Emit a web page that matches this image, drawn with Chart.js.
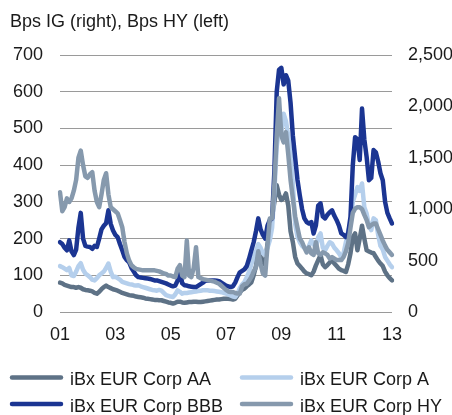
<!DOCTYPE html>
<html>
<head>
<meta charset="utf-8">
<script src="https://cdn.jsdelivr.net/npm/chart.js@4/dist/chart.umd.min.js"></script>
<style>
  html, body { margin: 0; padding: 0; background: #fff; }
  #wrap { width: 452px; height: 415px; }
</style>
</head>
<body>
<div id="wrap"><canvas id="spreads" width="452" height="415"></canvas></div>
<script>
// monthly observations, Jan 2001 .. Jan 2013
const months = [];
for (let y = 2001; y <= 2013; y++) {
  for (let m = 1; m <= 12; m++) {
    if (y === 2013 && m > 1) break;
    months.push(y + '-' + String(m).padStart(2, '0'));
  }
}

const titleText = 'Bps IG (right), Bps HY (left)';
const seriesNames = ['iBx EUR Corp AA', 'iBx EUR Corp A', 'iBx EUR Corp BBB', 'iBx EUR Corp HY'];
const leftTicks = [0, 100, 200, 300, 400, 500, 600, 700];
const rightTicks = [0, 500, 1000, 1500, 2000, 2500];

// investment grade, bps (left scale)
const corpAA = [
  80, 78, 74, 72, 70, 68, 68, 66, 68, 66, 62, 60,
  59, 58, 56, 52, 50, 55, 62, 68, 72, 68, 65, 62,
  60, 58, 55, 52, 50, 48, 46, 45, 44, 42, 41, 40,
  39, 37, 36, 35, 34, 33, 33, 32, 32, 30, 28, 26,
  25, 23, 25, 28, 28, 26, 25, 26, 27, 27, 28, 28,
  27, 27, 28, 29, 30, 31, 32, 33, 34, 34, 35, 36,
  36, 36, 35, 34, 36, 45, 54, 60, 64, 70, 75, 81,
  100, 125, 165, 150, 130, 140, 185, 223, 260, 300, 345, 320,
  305, 310, 323, 290, 220, 190, 150, 132, 125, 118, 110, 105,
  103, 100, 110, 127, 141, 155, 130, 122, 128, 135, 141, 132,
  125, 118, 114, 112, 109, 130, 160, 204, 214, 168, 200, 235,
  200, 168, 165, 162, 160, 150, 140, 132, 125, 110, 100, 92,
  86
];
const corpA = [
  125, 122, 118, 114, 120, 100, 98, 110, 125, 133, 115, 105,
  100, 95, 88, 86, 92, 100, 105, 110, 120, 132, 110, 95,
  96, 92, 88, 82, 80, 78, 76, 75, 73, 72, 73, 70,
  68, 66, 64, 62, 60, 59, 58, 60, 58, 52, 46, 44,
  42, 41, 48, 59, 55, 50, 52, 52, 53, 54, 55, 56,
  57, 58, 59, 59, 59, 58, 58, 57, 56, 55, 54, 52,
  50, 48, 45, 42, 41, 50, 65, 75, 82, 95, 110, 130,
  150, 165, 185, 175, 160, 155, 175, 195, 230, 330, 450, 500,
  490, 540, 520, 480, 430, 350, 240, 205, 190, 180, 175, 170,
  180, 195, 185, 175, 204, 214, 175, 168, 180, 190, 186, 175,
  168, 160, 150, 160, 190, 220, 240, 300, 320, 340, 330, 350,
  285, 268, 235, 223, 255, 250, 210, 180, 170, 150, 140, 130,
  122
];
const corpBBB = [
  190, 185, 175, 168, 195, 165, 155, 170, 230, 270, 200, 180,
  178, 177, 172, 180, 177, 200, 225, 235, 242, 277, 240, 222,
  210, 204, 185, 168, 150, 141, 135, 120, 110, 100, 95, 94,
  93, 92, 91, 90, 88, 86, 86, 84, 82, 80, 78, 75,
  72, 70, 72, 85, 115, 78, 73, 72, 70, 69, 68, 68,
  72, 76, 80, 85, 86, 86, 86, 86, 85, 84, 80, 76,
  72, 70, 68, 70, 80, 95, 108, 112, 116, 125, 145, 168,
  190, 220, 255, 225, 210, 200, 235, 250, 255, 386, 600, 660,
  665, 620, 645, 630, 570, 480, 420, 360, 318, 280, 255, 245,
  241, 245, 214, 236, 290, 296, 260, 255, 265, 272, 277, 262,
  250, 235, 214, 210, 204, 215, 259, 400, 476, 470, 414, 554,
  470, 422, 359, 365, 441, 435, 410, 378, 359, 300, 270, 255,
  241
];
// high yield, bps (right scale)
const corpHY = [
  1165, 980, 1020, 1105, 1070, 1105, 1180, 1285, 1500, 1570, 1430, 1320,
  1305, 1340, 1360, 1180, 1070, 1020, 1145, 1285, 1350, 1145, 1020, 1000,
  980, 960, 895, 825, 680, 570, 500, 455, 435, 420, 415, 410,
  405, 405, 405, 405, 405, 405, 400, 395, 385, 375, 370, 355,
  355, 345, 340, 420, 455, 355, 340, 695, 355, 340, 430, 630,
  340, 330, 320, 315, 310, 305, 300, 295, 285, 275, 255, 235,
  215, 200, 195, 195, 185, 180, 180, 250, 270, 275, 305, 340,
  395, 435, 590, 465, 375, 355, 645, 910, 910, 1250, 1715, 2080,
  1715, 1650, 1750, 1535, 1285, 1105, 930, 820, 715, 680, 625, 580,
  630, 570, 555, 680, 570, 555, 580, 570, 555, 520, 535, 520,
  505, 505, 505, 535, 590, 670, 820, 965, 1005, 1020, 1020, 1000,
  945, 895, 825, 845, 860, 860, 805, 750, 695, 645, 605, 580,
  555
];

const colors = ['#5e7286', '#b5cfec', '#1b3592', '#8699ad'];
const font = '"Liberation Sans", Arial, sans-serif';

function line(idx, values, axis, order) {
  return {
    label: seriesNames[idx],
    data: values,
    yAxisID: axis,
    borderColor: colors[idx],
    backgroundColor: colors[idx],
    borderWidth: 4.5,
    borderJoinStyle: 'round',
    borderCapStyle: 'round',
    pointRadius: 0,
    tension: 0,
    order: order
  };
}

// title and the two-column legend
const decor = {
  id: 'decor',
  afterDraw(chart) {
    const ctx = chart.ctx;
    ctx.save();
    ctx.font = '18px ' + font;
    ctx.fillStyle = '#1a1a1a';
    ctx.textBaseline = 'alphabetic';
    ctx.fillText(titleText, 10, 27);
    const spots = [[10, 377.5], [240, 377.5], [10, 404], [240, 404]];
    chart.data.datasets.forEach((ds, k) => {
      const [x, y] = spots[k];
      ctx.strokeStyle = ds.borderColor;
      ctx.lineWidth = 4.5;
      ctx.lineCap = 'round';
      ctx.beginPath();
      ctx.moveTo(x + 2, y);
      ctx.lineTo(x + 51, y);
      ctx.stroke();
      ctx.fillStyle = '#1a1a1a';
      ctx.fillText(ds.label, x + 60, y + 7.5);
    });
    ctx.restore();
  }
};

new Chart(document.getElementById('spreads'), {
  type: 'line',
  data: {
    labels: months,
    datasets: [
      line(0, corpAA, 'y', 4),
      line(1, corpA, 'y', 3),
      line(2, corpBBB, 'y', 2),
      line(3, corpHY, 'y2', 1)
    ]
  },
  options: {
    responsive: false,
    animation: false,
    layout: { padding: { top: 55, bottom: 0, left: 0, right: 0 } },
    plugins: { legend: { display: false }, tooltip: { enabled: false } },
    scales: {
      x: {
        offset: false,
        grid: { display: false },
        border: { display: false },
        ticks: {
          autoSkip: false,
          maxRotation: 0,
          padding: 4,
          color: '#1a1a1a',
          font: { family: font, size: 18 },
          callback: (v, i) => (i % 24 === 0 ? months[i].slice(2, 4) : null)
        },
        afterFit: s => { s.height = 103; }
      },
      y: {
        position: 'left',
        min: leftTicks[0],
        max: leftTicks[leftTicks.length - 1],
        afterBuildTicks: s => { s.ticks = leftTicks.map(v => ({ value: v })); },
        grid: { color: '#9a9a9a', lineWidth: 1, drawTicks: false },
        border: { display: false },
        ticks: { padding: 17, color: '#1a1a1a', font: { family: font, size: 18 } },
        afterFit: s => { s.width = 60; }
      },
      y2: {
        position: 'right',
        min: rightTicks[0],
        max: rightTicks[rightTicks.length - 1],
        afterBuildTicks: s => { s.ticks = rightTicks.map(v => ({ value: v })); },
        grid: { display: false, drawTicks: false },
        border: { display: false },
        ticks: {
          padding: 16,
          color: '#1a1a1a',
          font: { family: font, size: 18 },
          callback: v => v.toLocaleString('en-US')
        },
        afterFit: s => { s.width = 60; }
      }
    }
  },
  plugins: [decor]
});
</script>
</body>
</html>
